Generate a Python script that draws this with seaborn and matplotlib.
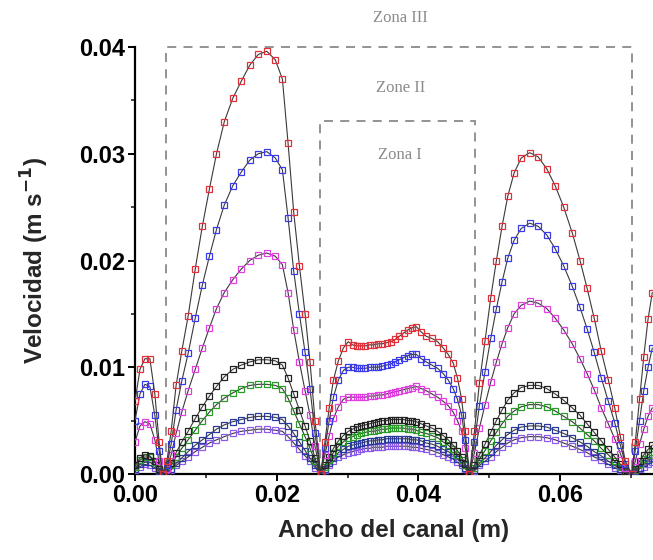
import numpy as np
import pandas as pd
import seaborn as sns
import matplotlib
matplotlib.use("Agg")
import matplotlib.pyplot as plt
from matplotlib.patches import Rectangle

# ---------------- data ----------------
x_a = [0.0000, 0.0007, 0.0014, 0.0021, 0.0028, 0.0034, 0.0039]
x_b = [0.0045, 0.0051, 0.0058, 0.0066, 0.0075, 0.0085, 0.0095, 0.0105, 0.0115, 0.0126,
       0.0138, 0.0150, 0.0162, 0.0174, 0.0186, 0.0198, 0.0208, 0.0216, 0.0224, 0.0232,
       0.0240, 0.0247, 0.0254, 0.0262]
x_c = [0.0268, 0.0274, 0.0280, 0.0287, 0.0294, 0.0301, 0.0307, 0.0313, 0.0319, 0.0325,
       0.0331, 0.0337, 0.0343, 0.0349, 0.0355, 0.0361, 0.0367, 0.0373, 0.0379, 0.0385,
       0.0391, 0.0397, 0.0404, 0.0411, 0.0419, 0.0427, 0.0435, 0.0442, 0.0449, 0.0455,
       0.0461, 0.0466, 0.0472]
x_d = [0.0479, 0.0486, 0.0494, 0.0502, 0.0510, 0.0518, 0.0526, 0.0535, 0.0545, 0.0557,
       0.0569, 0.0581, 0.0593, 0.0605, 0.0617, 0.0628, 0.0638, 0.0648, 0.0658, 0.0668,
       0.0677, 0.0685, 0.0692, 0.0701]
x_e = [0.0706, 0.0712, 0.0718, 0.0724, 0.0730]
ancho = x_a + x_b + x_c + x_d + x_e

v_rojo = ([0.0068, 0.0098, 0.0108, 0.0108, 0.0075, 0.0030, 0.0]
          + [0.0012, 0.0040, 0.0083, 0.0115, 0.0148, 0.0192, 0.0232, 0.0267, 0.0300, 0.0330,
             0.0352, 0.0368, 0.0383, 0.0393, 0.0396, 0.0388, 0.0370, 0.0310, 0.0245, 0.0195,
             0.0150, 0.0105, 0.0050, 0.0]
          + [0.0030, 0.0062, 0.0088, 0.0106, 0.0118, 0.0124, 0.0121, 0.0120, 0.0120, 0.0120,
             0.0121, 0.0121, 0.0122, 0.0122, 0.0123, 0.0124, 0.0126, 0.0129, 0.0132, 0.0135,
             0.0137, 0.0138, 0.0133, 0.0129, 0.0127, 0.0124, 0.0118, 0.0112, 0.0104, 0.0090,
             0.0070, 0.0040, 0.0]
          + [0.0040, 0.0085, 0.0125, 0.0165, 0.0200, 0.0232, 0.0260, 0.0282, 0.0296, 0.0301,
             0.0297, 0.0286, 0.0270, 0.0250, 0.0226, 0.0200, 0.0174, 0.0146, 0.0115, 0.0088,
             0.0062, 0.0035, 0.0012, 0.0]
          + [0.0030, 0.0070, 0.0110, 0.0145, 0.0170])

v_azul = ([0.0050, 0.0075, 0.0084, 0.0082, 0.0055, 0.0022, 0.0]
          + [0.0008, 0.0028, 0.0060, 0.0087, 0.0113, 0.0146, 0.0177, 0.0204, 0.0229, 0.0252,
             0.0270, 0.0283, 0.0294, 0.0300, 0.0302, 0.0296, 0.0285, 0.0240, 0.0190, 0.0150,
             0.0114, 0.0080, 0.0038, 0.0]
          + [0.0024, 0.0050, 0.0072, 0.0088, 0.0097, 0.0100, 0.0100, 0.0099, 0.0099, 0.0099,
             0.0100, 0.0100, 0.0100, 0.0101, 0.0102, 0.0103, 0.0105, 0.0107, 0.0109, 0.0111,
             0.0112, 0.0112, 0.0108, 0.0105, 0.0102, 0.0099, 0.0094, 0.0088, 0.0080, 0.0070,
             0.0055, 0.0032, 0.0]
          + [0.0030, 0.0064, 0.0096, 0.0127, 0.0155, 0.0180, 0.0202, 0.0219, 0.0230, 0.0235,
             0.0232, 0.0224, 0.0211, 0.0195, 0.0176, 0.0156, 0.0136, 0.0114, 0.0090, 0.0068,
             0.0048, 0.0027, 0.0009, 0.0]
          + [0.0022, 0.0050, 0.0078, 0.0100, 0.0118])

v_magenta = ([0.0030, 0.0045, 0.0049, 0.0047, 0.0032, 0.0012, 0.0]
             + [0.0005, 0.0018, 0.0038, 0.0058, 0.0078, 0.0098, 0.0118, 0.0137, 0.0155, 0.0170,
                0.0182, 0.0192, 0.0200, 0.0205, 0.0207, 0.0204, 0.0196, 0.0170, 0.0135, 0.0105,
                0.0078, 0.0055, 0.0026, 0.0]
             + [0.0018, 0.0036, 0.0052, 0.0063, 0.0070, 0.0072, 0.0072, 0.0072, 0.0072, 0.0072,
                0.0073, 0.0073, 0.0074, 0.0074, 0.0075, 0.0076, 0.0077, 0.0078, 0.0079, 0.0080,
                0.0081, 0.0082, 0.0080, 0.0078, 0.0075, 0.0072, 0.0068, 0.0064, 0.0058, 0.0050,
                0.0040, 0.0024, 0.0]
             + [0.0020, 0.0043, 0.0065, 0.0086, 0.0105, 0.0122, 0.0137, 0.0150, 0.0158, 0.0162,
                0.0160, 0.0155, 0.0146, 0.0135, 0.0122, 0.0108, 0.0094, 0.0079, 0.0062, 0.0047,
                0.0033, 0.0019, 0.0006, 0.0]
             + [0.0012, 0.0028, 0.0042, 0.0054, 0.0062])

v_negro = ([0.0008, 0.0015, 0.0018, 0.0017, 0.0012, 0.0005, 0.0]
           + [0.0003, 0.0010, 0.0020, 0.0030, 0.0040, 0.0052, 0.0063, 0.0073, 0.0082, 0.0091,
              0.0098, 0.0102, 0.0105, 0.0107, 0.0107, 0.0106, 0.0102, 0.0090, 0.0075, 0.0060,
              0.0045, 0.0031, 0.0015, 0.0]
           + [0.0008, 0.0016, 0.0024, 0.0031, 0.0036, 0.0040, 0.0042, 0.0044, 0.0045, 0.0046,
              0.0047, 0.0048, 0.0049, 0.0050, 0.0050, 0.0051, 0.0051, 0.0051, 0.0051, 0.0050,
              0.0050, 0.0049, 0.0047, 0.0045, 0.0043, 0.0040, 0.0036, 0.0032, 0.0027, 0.0022,
              0.0016, 0.0009, 0.0]
           + [0.0008, 0.0018, 0.0028, 0.0039, 0.0050, 0.0060, 0.0069, 0.0076, 0.0081, 0.0083,
              0.0083, 0.0080, 0.0075, 0.0069, 0.0062, 0.0055, 0.0047, 0.0039, 0.0031, 0.0023,
              0.0016, 0.0009, 0.0003, 0.0]
           + [0.0005, 0.0012, 0.0018, 0.0023, 0.0027])

v_verde = ([0.0007, 0.0013, 0.0016, 0.0016, 0.0011, 0.0005, 0.0]
           + [0.0002, 0.0008, 0.0016, 0.0024, 0.0032, 0.0041, 0.0050, 0.0058, 0.0065, 0.0071,
              0.0076, 0.0080, 0.0083, 0.0084, 0.0084, 0.0083, 0.0080, 0.0071, 0.0059, 0.0047,
              0.0035, 0.0024, 0.0012, 0.0]
           + [0.0007, 0.0013, 0.0020, 0.0026, 0.0030, 0.0034, 0.0035, 0.0037, 0.0038, 0.0039,
              0.0040, 0.0040, 0.0041, 0.0042, 0.0042, 0.0043, 0.0043, 0.0043, 0.0043, 0.0042,
              0.0042, 0.0041, 0.0039, 0.0038, 0.0036, 0.0034, 0.0030, 0.0027, 0.0023, 0.0018,
              0.0013, 0.0008, 0.0]
           + [0.0006, 0.0014, 0.0022, 0.0031, 0.0039, 0.0047, 0.0054, 0.0059, 0.0063, 0.0065,
              0.0065, 0.0063, 0.0059, 0.0054, 0.0049, 0.0043, 0.0037, 0.0031, 0.0024, 0.0018,
              0.0012, 0.0007, 0.0002, 0.0]
           + [0.0004, 0.0009, 0.0014, 0.0018, 0.0021])

v_marino = ([0.0005, 0.0009, 0.0011, 0.0011, 0.0008, 0.0003, 0.0]
            + [0.0002, 0.0005, 0.0010, 0.0015, 0.0021, 0.0027, 0.0032, 0.0037, 0.0042, 0.0046,
               0.0049, 0.0051, 0.0053, 0.0054, 0.0054, 0.0053, 0.0051, 0.0045, 0.0038, 0.0030,
               0.0022, 0.0015, 0.0008, 0.0]
            + [0.0005, 0.0010, 0.0015, 0.0020, 0.0023, 0.0026, 0.0027, 0.0028, 0.0029, 0.0030,
               0.0031, 0.0031, 0.0032, 0.0032, 0.0033, 0.0033, 0.0033, 0.0033, 0.0033, 0.0033,
               0.0032, 0.0032, 0.0031, 0.0029, 0.0028, 0.0026, 0.0023, 0.0021, 0.0018, 0.0014,
               0.0010, 0.0006, 0.0]
            + [0.0004, 0.0010, 0.0015, 0.0021, 0.0027, 0.0032, 0.0037, 0.0041, 0.0044, 0.0045,
               0.0045, 0.0044, 0.0041, 0.0038, 0.0034, 0.0030, 0.0026, 0.0021, 0.0017, 0.0012,
               0.0008, 0.0005, 0.0002, 0.0]
            + [0.0003, 0.0006, 0.0010, 0.0013, 0.0015])

v_violeta = ([0.0004, 0.0007, 0.0009, 0.0008, 0.0006, 0.0002, 0.0]
             + [0.0001, 0.0004, 0.0008, 0.0012, 0.0016, 0.0021, 0.0025, 0.0029, 0.0032, 0.0035,
                0.0038, 0.0040, 0.0041, 0.0042, 0.0042, 0.0041, 0.0040, 0.0035, 0.0029, 0.0023,
                0.0017, 0.0012, 0.0006, 0.0]
             + [0.0004, 0.0008, 0.0012, 0.0016, 0.0018, 0.0020, 0.0021, 0.0022, 0.0023, 0.0024,
                0.0024, 0.0025, 0.0025, 0.0025, 0.0026, 0.0026, 0.0026, 0.0026, 0.0026, 0.0026,
                0.0025, 0.0025, 0.0024, 0.0023, 0.0022, 0.0020, 0.0018, 0.0016, 0.0014, 0.0011,
                0.0008, 0.0005, 0.0]
             + [0.0003, 0.0008, 0.0012, 0.0016, 0.0021, 0.0025, 0.0029, 0.0032, 0.0034, 0.0035,
                0.0035, 0.0034, 0.0032, 0.0029, 0.0026, 0.0023, 0.0020, 0.0016, 0.0013, 0.0009,
                0.0006, 0.0004, 0.0001, 0.0]
             + [0.0002, 0.0005, 0.0007, 0.0009, 0.0011])

series_names = ["S1", "S2", "S3", "S4", "S5", "S6", "S7"]
series_vals = [v_rojo, v_azul, v_magenta, v_negro, v_verde, v_marino, v_violeta]
series_colors = ["#e0303a", "#3a3ae8", "#e040e0", "#222222", "#2a9a2a", "#2a3a9a", "#8a5ae8"]

zone_labels = ["Zona III", "Zone II", "Zona I"]

# ---------------- figure ----------------
sns.set_theme(style="ticks")
plt.rcParams["font.family"] = ["Liberation Sans", "DejaVu Sans"]

fig = plt.figure(figsize=(6.53, 5.60), dpi=100)
ax = fig.add_axes([135 / 653, 86 / 560, 1 - 135 / 653, 427 / 560])

rows = []
for name, vals in zip(series_names, series_vals):
    for xv, yv in zip(ancho, vals):
        rows.append((name, xv, yv))
df = pd.DataFrame(rows, columns=["serie", "x", "v"])

for name, col in list(zip(series_names, series_colors))[::-1]:
    sub = df[df["serie"] == name]
    sns.lineplot(data=sub, x="x", y="v", ax=ax, sort=False, estimator=None,
                 color="#3a3a3a", lw=0.8, marker="s", markersize=3.8,
                 markerfacecolor="none", markeredgecolor=col, markeredgewidth=0.9,
                 legend=False, zorder=3)

# zone boxes
box_kw = dict(fill=False, edgecolor="#8a8a8a", lw=1.3, ls=(0, (5, 4)), zorder=2)
ax.add_patch(Rectangle((0.0044, 0.0), 0.0701 - 0.0044, 0.0400, clip_on=False, **box_kw))
ax.add_patch(Rectangle((0.0261, 0.0), 0.0480 - 0.0261, 0.0331, **box_kw))

txt_kw = dict(ha="center", va="center", color="#8a8a8a", fontsize=12,
              family=["Liberation Serif", "DejaVu Serif"])
ax.text(0.0375, 0.0427, zone_labels[0], clip_on=False, **txt_kw)
ax.text(0.0375, 0.0362, zone_labels[1], **txt_kw)
ax.text(0.0374, 0.0299, zone_labels[2], **txt_kw)

ax.set_xlim(0, 0.0731)
ax.set_ylim(0, 0.04)
ax.set_xticks([0.00, 0.02, 0.04, 0.06])
ax.set_xticklabels(["0.00", "0.02", "0.04", "0.06"])
ax.set_xticks([0.01, 0.03, 0.05, 0.07], minor=True)
ax.set_yticks([0.00, 0.01, 0.02, 0.03, 0.04])
ax.set_yticklabels(["0.00", "0.01", "0.02", "0.03", "0.04"])
ax.set_yticks([0.005, 0.015, 0.025, 0.035], minor=True)

sns.despine(ax=ax, top=True, right=True)
for s in ["left", "bottom"]:
    ax.spines[s].set_linewidth(1.6)
    ax.spines[s].set_color("black")
ax.tick_params(axis="both", which="major", length=5, width=1.4, direction="out",
               labelsize=17, colors="black", pad=2)
ax.tick_params(axis="both", which="minor", length=3, width=1.2, direction="out")
for lab in ax.get_xticklabels() + ax.get_yticklabels():
    lab.set_fontweight("bold")

ax.set_xlabel("Ancho del canal (m)", fontsize=17.5, fontweight="bold", labelpad=9)
ax.set_ylabel("Velocidad (m s$^{\\mathbf{-1}}$)", fontsize=17.5, fontweight="bold", labelpad=20)

fig.savefig("out.png", dpi=100)
